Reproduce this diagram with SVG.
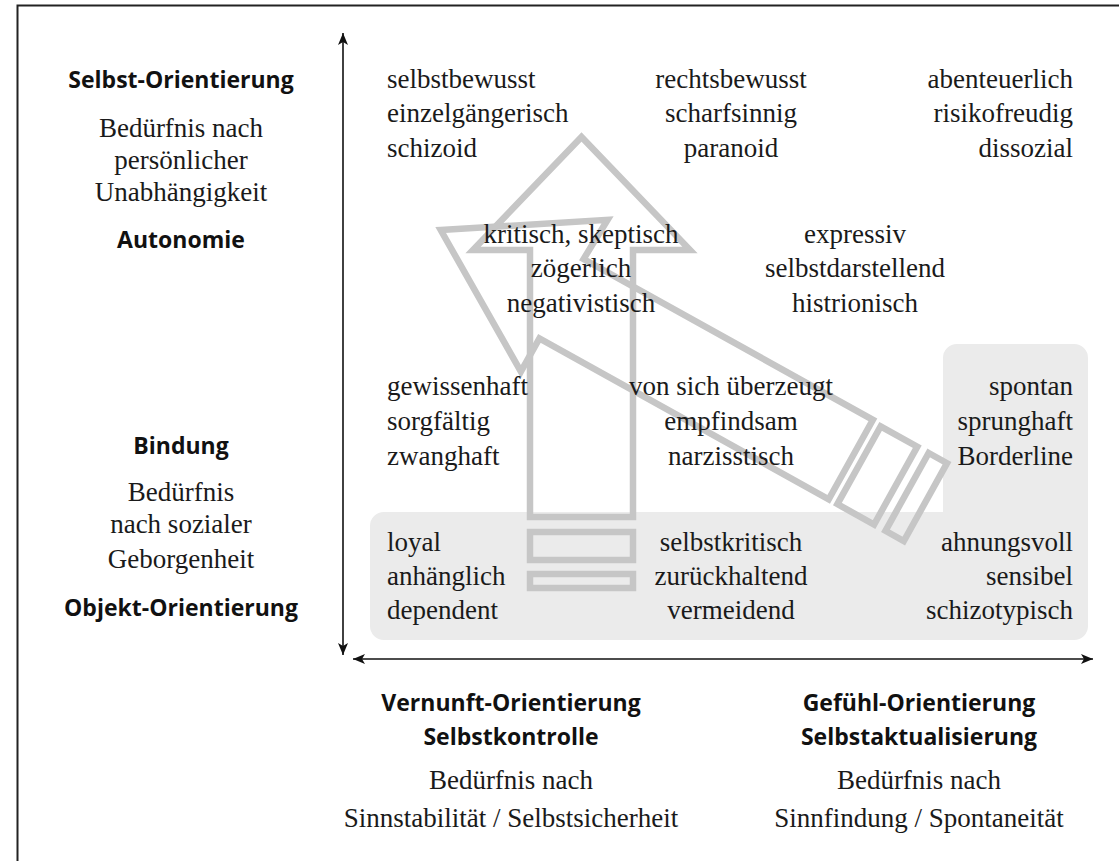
<svg xmlns="http://www.w3.org/2000/svg" width="1119" height="861" viewBox="0 0 1119 861">
<style>
.s{font-family:"Liberation Serif","Times New Roman",serif;font-size:27px;fill:#1a1a1a}
.b{font-family:"Open Sans","Noto Sans",sans-serif;font-size:23px;font-weight:700;fill:#111}
.m{text-anchor:middle}
.e{text-anchor:end}
.ar{fill:none;stroke:#c6c6c6;stroke-width:6.5;stroke-linejoin:miter}
.ax{stroke:#111;stroke-width:1.6;fill:none}
</style>
<defs>
<marker id="ah" viewBox="0 0 12 10" refX="12" refY="5" markerWidth="12" markerHeight="10" markerUnits="userSpaceOnUse" orient="auto-start-reverse">
<path d="M0,0 L12,5 L0,10 L3,5 Z" fill="#111"/>
</marker>
</defs>
<rect width="1119" height="861" fill="#fff"/>
<path d="M17.5,861 V5.5 H1119" fill="none" stroke="#222" stroke-width="2"/>
<g id="shade">
<path d="M957,344 H1074 A14,14 0 0 1 1088,358 V626 A14,14 0 0 1 1074,640 H384 A14,14 0 0 1 370,626 V526 A14,14 0 0 1 384,512 H943 V358 A14,14 0 0 1 957,344 Z" fill="#ebebeb"/>
</g>
<g id="arrows">
<polygon class="ar" points="440.7,230 607.6,219.8 583.6,259 872.9,419.8 828.7,499.3 539.4,338.5 520.9,371.7"/>
<polygon class="ar" points="880.6,426.3 917.3,446.7 874.1,524.5 837.4,504.1"/>
<polygon class="ar" points="928.7,453 947,463.2 903.8,541 885.5,530.8"/>
<polygon class="ar" points="530,517 530,250 473,250 581.5,137 690,250 633,250 633,517"/>
<rect class="ar" x="530" y="532" width="103" height="28"/>
<rect class="ar" x="530" y="574" width="103" height="14"/>
</g>
<g id="connectors">
<line class="ax" x1="343" y1="655" x2="343" y2="33" marker-start="url(#ah)" marker-end="url(#ah)"/>
<line class="ax" x1="353" y1="659" x2="1093" y2="659" marker-start="url(#ah)" marker-end="url(#ah)"/>
</g>
<g id="left-labels">
<text class="b m" x="181" y="88">Selbst-Orientierung</text>
<text class="s m" x="181" y="137">Bedürfnis nach</text>
<text class="s m" x="181" y="169">persönlicher</text>
<text class="s m" x="181" y="201">Unabhängigkeit</text>
<text class="b m" x="181" y="248">Autonomie</text>
<text class="b m" x="181" y="454">Bindung</text>
<text class="s m" x="181" y="501">Bedürfnis</text>
<text class="s m" x="181" y="533">nach sozialer</text>
<text class="s m" x="181" y="568">Geborgenheit</text>
<text class="b m" x="181" y="616">Objekt-Orientierung</text>
</g>
<g id="row1">
<g id="n-schizoid"><text class="s" x="387" y="88">selbstbewusst</text><text class="s" x="387" y="122">einzelgängerisch</text><text class="s" x="387" y="157">schizoid</text></g>
<g id="n-paranoid"><text class="s m" x="731" y="88">rechtsbewusst</text><text class="s m" x="731" y="122">scharfsinnig</text><text class="s m" x="731" y="157">paranoid</text></g>
<g id="n-dissozial"><text class="s e" x="1073" y="88">abenteuerlich</text><text class="s e" x="1073" y="122">risikofreudig</text><text class="s e" x="1073" y="157">dissozial</text></g>
</g>
<g id="row2">
<g id="n-negativistisch"><text class="s m" x="581" y="243">kritisch, skeptisch</text><text class="s m" x="581" y="277">zögerlich</text><text class="s m" x="581" y="312">negativistisch</text></g>
<g id="n-histrionisch"><text class="s m" x="855" y="243">expressiv</text><text class="s m" x="855" y="277">selbstdarstellend</text><text class="s m" x="855" y="312">histrionisch</text></g>
</g>
<g id="row3">
<g id="n-zwanghaft"><text class="s" x="387" y="395">gewissenhaft</text><text class="s" x="387" y="430">sorgfältig</text><text class="s" x="387" y="465">zwanghaft</text></g>
<g id="n-narzisstisch"><text class="s m" x="731" y="395">von sich überzeugt</text><text class="s m" x="731" y="430">empfindsam</text><text class="s m" x="731" y="465">narzisstisch</text></g>
<g id="n-borderline"><text class="s e" x="1073" y="395">spontan</text><text class="s e" x="1073" y="430">sprunghaft</text><text class="s e" x="1073" y="465">Borderline</text></g>
</g>
<g id="row4">
<g id="n-dependent"><text class="s" x="387" y="551">loyal</text><text class="s" x="387" y="585">anhänglich</text><text class="s" x="387" y="619">dependent</text></g>
<g id="n-vermeidend"><text class="s m" x="731" y="551">selbstkritisch</text><text class="s m" x="731" y="585">zurückhaltend</text><text class="s m" x="731" y="619">vermeidend</text></g>
<g id="n-schizotypisch"><text class="s e" x="1073" y="551">ahnungsvoll</text><text class="s e" x="1073" y="585">sensibel</text><text class="s e" x="1073" y="619">schizotypisch</text></g>
</g>
<g id="bottom-left">
<text class="b m" x="511" y="711">Vernunft-Orientierung</text>
<text class="b m" x="511" y="745">Selbstkontrolle</text>
<text class="s m" x="511" y="789">Bedürfnis nach</text>
<text class="s m" x="511" y="827">Sinnstabilität / Selbstsicherheit</text>
</g>
<g id="bottom-right">
<text class="b m" x="919" y="711">Gefühl-Orientierung</text>
<text class="b m" x="919" y="745">Selbstaktualisierung</text>
<text class="s m" x="919" y="789">Bedürfnis nach</text>
<text class="s m" x="919" y="827">Sinnfindung / Spontaneität</text>
</g>
</svg>
